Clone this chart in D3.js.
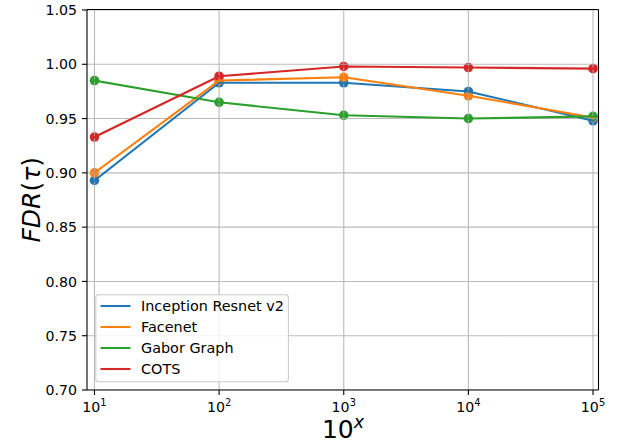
<!DOCTYPE html>
<html>
<head>
<meta charset="utf-8">
<script src="https://cdn.jsdelivr.net/npm/d3@7"></script>
<style>
  body { margin: 0; background: #fff; }
  svg { display: block; }
  text { font-family: "DejaVu Sans", sans-serif; fill: #000; }
</style>
</head>
<body>
<svg id="chart" width="617" height="444"></svg>
<script>
// Data: FDR(τ) for each method at 10^1 … 10^5
const exponents = [1, 2, 3, 4, 5];
const inceptionResnet = [0.893, 0.983, 0.983, 0.975, 0.948];
const facenet = [0.900, 0.985, 0.988, 0.971, 0.951];
const gaborGraph = [0.985, 0.965, 0.953, 0.950, 0.952];
const cots = [0.933, 0.989, 0.998, 0.997, 0.996];
const seriesNames = ["Inception Resnet v2", "Facenet", "Gabor Graph", "COTS"];
const seriesColors = ["#1f77b4", "#ff7f0e", "#2ca02c", "#d62728"];
const yTicks = [0.70, 0.75, 0.80, 0.85, 0.90, 0.95, 1.00, 1.05];

const seriesValues = [inceptionResnet, facenet, gaborGraph, cots];
const series = seriesNames.map((name, i) => ({
  name,
  color: seriesColors[i],
  points: exponents.map((e, j) => ({ x: Math.pow(10, e), e, y: seriesValues[i][j] }))
}));

const svg = d3.select("#chart");
const plotLeft = 87, plotRight = 598.5, plotTop = 9.5, plotBottom = 390;
const tickFont = 14.2;

const x = d3.scaleLog().domain([Math.pow(10, 0.94), Math.pow(10, 5.044)]).range([plotLeft, plotRight]);
const y = d3.scaleLinear().domain([0.70, 1.05]).range([plotBottom, 10]);

svg.append("defs").append("clipPath").attr("id", "plotArea")
  .append("rect").attr("x", plotLeft).attr("y", plotTop)
  .attr("width", plotRight - plotLeft).attr("height", plotBottom - plotTop);

const plot = svg.append("g").attr("clip-path", "url(#plotArea)");

// scatter markers sit underneath the grid
series.forEach(s => {
  plot.append("g").selectAll("circle").data(s.points).join("circle")
    .attr("cx", d => x(d.x)).attr("cy", d => y(d.y)).attr("r", 4.8)
    .attr("fill", s.color);
});

// grid
const grid = plot.append("g").attr("stroke", "#b0b0b0").attr("stroke-width", 1.1).attr("opacity", 0.85);
exponents.forEach(e => {
  const gx = x(Math.pow(10, e));
  grid.append("line").attr("x1", gx).attr("x2", gx).attr("y1", plotTop).attr("y2", plotBottom);
});
yTicks.forEach(t => {
  grid.append("line").attr("x1", plotLeft).attr("x2", plotRight).attr("y1", y(t)).attr("y2", y(t));
});

// connecting lines on top of the grid
const line = d3.line().x(d => x(d.x)).y(d => y(d.y));
series.forEach(s => {
  plot.append("path").datum(s.points).attr("d", line)
    .attr("fill", "none").attr("stroke", s.color).attr("stroke-width", 2.08)
    .attr("stroke-linejoin", "round").attr("stroke-linecap", "square");
});

// spines
const spines = svg.append("g").attr("stroke", "#000").attr("stroke-width", 1.1).attr("fill", "none");
spines.append("line").attr("x1", plotLeft).attr("x2", plotLeft).attr("y1", plotTop).attr("y2", plotBottom);
spines.append("line").attr("x1", plotLeft).attr("x2", plotRight).attr("y1", plotBottom).attr("y2", plotBottom);
spines.append("line").attr("x1", plotLeft).attr("x2", plotRight).attr("y1", plotTop).attr("y2", plotTop);
spines.append("line").attr("x1", plotRight).attr("x2", plotRight).attr("y1", plotTop).attr("y2", plotBottom);

// y axis ticks and labels
const yAxis = svg.append("g");
yTicks.forEach(t => {
  const ty = y(t);
  yAxis.append("line").attr("x1", plotLeft - 5).attr("x2", plotLeft).attr("y1", ty).attr("y2", ty)
    .attr("stroke", "#000").attr("stroke-width", 1.1);
  yAxis.append("text").attr("x", plotLeft - 10).attr("y", ty).attr("dy", "0.36em")
    .attr("text-anchor", "end").attr("font-size", tickFont).text(d3.format(".2f")(t));
});

// x axis ticks and 10^n labels
const xAxis = svg.append("g");
exponents.forEach(e => {
  const tx = x(Math.pow(10, e));
  xAxis.append("line").attr("x1", tx).attr("x2", tx).attr("y1", plotBottom).attr("y2", plotBottom + 5)
    .attr("stroke", "#000").attr("stroke-width", 1.1);
  const label = xAxis.append("text").attr("x", tx).attr("y", 411.5)
    .attr("text-anchor", "middle").attr("font-size", tickFont);
  label.append("tspan").text("10");
  label.append("tspan").attr("font-size", 9.9).attr("dy", -5.5).text(String(e));
});

// axis titles
const xTitle = svg.append("text").attr("x", 343).attr("y", 438)
  .attr("text-anchor", "middle").attr("font-size", 25);
xTitle.append("tspan").text("10");
xTitle.append("tspan").attr("font-size", 17.5).attr("font-style", "italic").attr("dy", -10).text("x");

const yTitle = svg.append("text")
  .attr("transform", `translate(40,${(plotTop + plotBottom) / 2}) rotate(-90)`)
  .attr("text-anchor", "middle").attr("font-size", 25);
yTitle.append("tspan").attr("font-style", "italic").text("FDR");
yTitle.append("tspan").text("(");
yTitle.append("tspan").attr("font-style", "italic").text("τ");
yTitle.append("tspan").text(")");

// legend
const legend = svg.append("g");
legend.append("rect").attr("x", 95.8).attr("y", 294.8).attr("width", 192.6).attr("height", 87)
  .attr("rx", 2.8).attr("fill", "#fff").attr("fill-opacity", 0.8)
  .attr("stroke", "#cccccc").attr("stroke-width", 1.1);
series.forEach((s, i) => {
  const ly = 306 + i * 21;
  legend.append("line").attr("x1", 100.5).attr("x2", 130.5).attr("y1", ly).attr("y2", ly)
    .attr("stroke", s.color).attr("stroke-width", 2.08);
  legend.append("text").attr("x", 141).attr("y", ly).attr("dy", "0.36em")
    .attr("font-size", 14.4).text(s.name);
});
</script>
</body>
</html>
